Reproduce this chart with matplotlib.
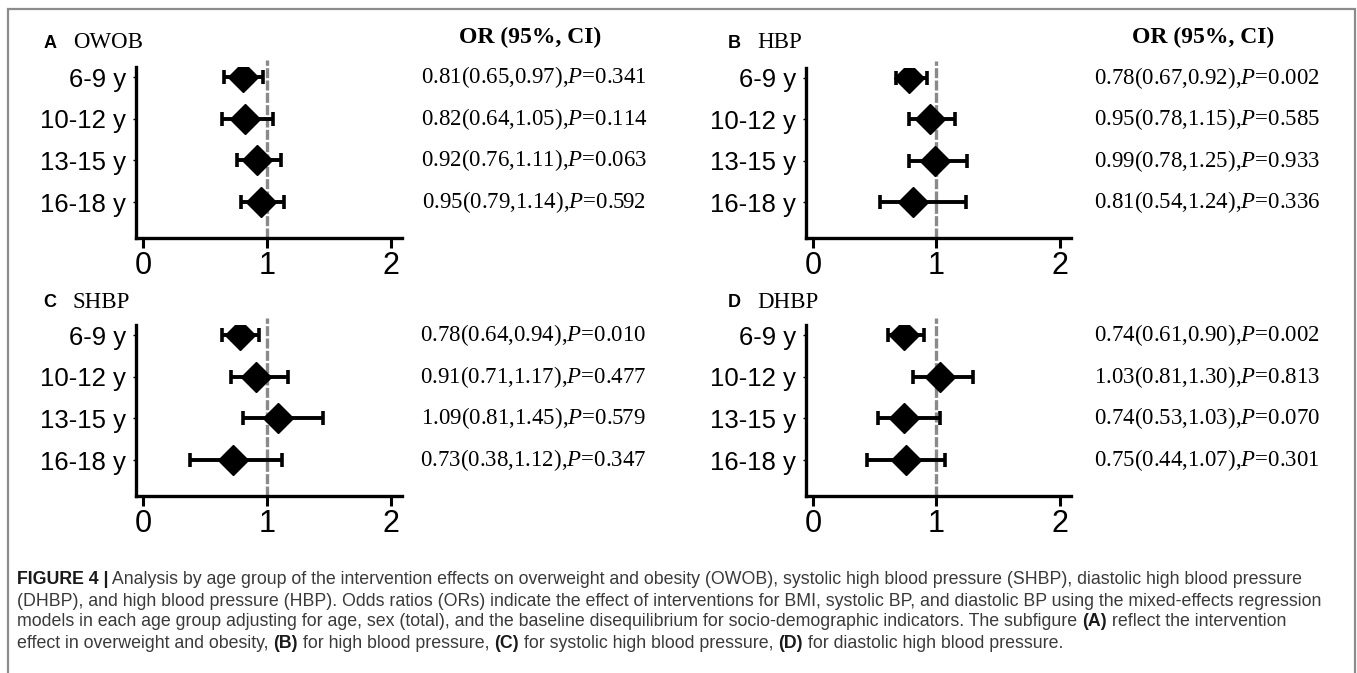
import matplotlib
matplotlib.use("Agg")
import matplotlib.pyplot as plt
from matplotlib.patches import Rectangle
from matplotlib.transforms import blended_transform_factory

plt.rcParams['mathtext.fontset'] = 'custom'
plt.rcParams['mathtext.rm'] = 'Liberation Serif'
plt.rcParams['mathtext.it'] = 'Liberation Serif:italic'

# data
groups = ["6-9 y", "10-12 y", "13-15 y", "16-18 y"]

owob_or = [0.81, 0.82, 0.92, 0.95]
owob_lo = [0.65, 0.64, 0.76, 0.79]
owob_hi = [0.97, 1.05, 1.11, 1.14]
owob_p = [0.341, 0.114, 0.063, 0.592]

hbp_or = [0.78, 0.95, 0.99, 0.81]
hbp_lo = [0.67, 0.78, 0.78, 0.54]
hbp_hi = [0.92, 1.15, 1.25, 1.24]
hbp_p = [0.002, 0.585, 0.933, 0.336]

shbp_or = [0.78, 0.91, 1.09, 0.73]
shbp_lo = [0.64, 0.71, 0.81, 0.38]
shbp_hi = [0.94, 1.17, 1.45, 1.12]
shbp_p = [0.010, 0.477, 0.579, 0.347]

dhbp_or = [0.74, 1.03, 0.74, 0.75]
dhbp_lo = [0.61, 0.81, 0.53, 0.44]
dhbp_hi = [0.90, 1.30, 1.03, 1.07]
dhbp_p = [0.002, 0.813, 0.070, 0.301]

W, H = 1357, 673
fig = plt.figure(figsize=(W / 100, H / 100), dpi=100)
fig.patch.set_facecolor("white")

# outer frame (no bottom edge visible)
fig.add_artist(Rectangle((8 / W, -0.05), (1355 - 8) / W, 1.05 - 9 / H,
                         transform=fig.transFigure, fill=False,
                         edgecolor="#8c8c8c", linewidth=1.6))


def px_rect(l, t, r, b):
    return [l / W, 1 - b / H, (r - l) / W, (b - t) / H]


def forest(box, letter, name, ors, lo, hi, pvals, text_x, letter_xy, show_header):
    ax = fig.add_axes(px_rect(*box))
    ypos = [4, 3, 2, 1]
    ax.plot([1, 1], [0.14, 4.41], color="#8a8a8a", lw=2.4,
            linestyle=(0, (3, 0.7)), clip_on=False, zorder=1)
    xerr = [[o - l for o, l in zip(ors, lo)], [h - o for o, h in zip(ors, hi)]]
    ax.errorbar(ors, ypos, xerr=xerr, fmt="D", color="black", ms=15,
                elinewidth=2.8, capsize=5, capthick=2.6, zorder=3)
    ax.set_xlim(-0.056, 2.09)
    ax.set_ylim(0.14, 4.24)
    ax.set_xticks([0, 1, 2])
    ax.set_yticks(ypos)
    ax.set_yticklabels(groups, family="Liberation Sans", fontsize=18.5)
    for lab in ax.get_xticklabels():
        lab.set_family("Liberation Sans")
        lab.set_fontsize(22)
    ax.tick_params(axis="x", length=7, width=2.2, pad=2)
    ax.tick_params(axis="y", length=2, width=1, pad=5)
    for s in ["top", "right"]:
        ax.spines[s].set_visible(False)
    for s in ["left", "bottom"]:
        ax.spines[s].set_linewidth(2.4)
    ax.patch.set_alpha(0)

    # panel letter and title
    lx, ly = letter_xy
    fig.text(lx / W, 1 - ly / H, letter, family="Liberation Sans",
             weight="bold", fontsize=13, ha="center", va="center")
    fig.text((lx + 23) / W, 1 - (ly - 1) / H, name, family="Liberation Serif",
             fontsize=16.5, ha="left", va="center")

    if show_header:
        fig.text((text_x - 4) / W, 1 - 37 / H, "OR (95%, CI)",
                 family="Liberation Serif", weight="bold", fontsize=17,
                 ha="center", va="center")
    tr = blended_transform_factory(fig.transFigure, ax.transData)
    for y, o, l, h, p in zip(ypos, ors, lo, hi, pvals):
        s = "{:.2f}({:.2f},{:.2f}),$P$={:.3f}".format(o, l, h, p)
        ax.text(text_x / W, y, s, transform=tr, family="Liberation Serif",
                fontsize=16.5, ha="center", va="center")


forest((136, 67, 402, 238), "A", "OWOB", owob_or, owob_lo, owob_hi, owob_p,
       534, (50, 44), True)
forest((806, 68, 1071, 238), "B", "HBP", hbp_or, hbp_lo, hbp_hi, hbp_p,
       1207, (734, 44), True)
forest((136, 325, 402, 496), "C", "SHBP", shbp_or, shbp_lo, shbp_hi, shbp_p,
       533, (50, 303), False)
forest((806, 325, 1071, 496), "D", "DHBP", dhbp_or, dhbp_lo, dhbp_hi, dhbp_p,
       1207, (734, 303), False)

# caption with bold fragments
cap_lines = [
    [("FIGURE 4 |", True), (" Analysis by age group of the intervention effects on overweight and obesity (OWOB), systolic high blood pressure (SHBP), diastolic high blood pressure", False)],
    [("(DHBP), and high blood pressure (HBP). Odds ratios (ORs) indicate the effect of interventions for BMI, systolic BP, and diastolic BP using the mixed-effects regression", False)],
    [("models in each age group adjusting for age, sex (total), and the baseline disequilibrium for socio-demographic indicators. The subfigure ", False), ("(A)", True), (" reflect the intervention", False)],
    [("effect in overweight and obesity, ", False), ("(B)", True), (" for high blood pressure, ", False), ("(C)", True), (" for systolic high blood pressure, ", False), ("(D)", True), (" for diastolic high blood pressure.", False)],
]
cap_y = [580, 601, 622, 643]

renderer = fig.canvas.get_renderer()


def text_width(s, bold, size):
    t = fig.text(0, 0, "|" + s + "|", family="Liberation Sans", fontsize=size,
                 weight="bold" if bold else "normal")
    t2 = fig.text(0, 0, "||", family="Liberation Sans", fontsize=size,
                  weight="bold" if bold else "normal")
    w = t.get_window_extent(renderer).width - t2.get_window_extent(renderer).width
    t.remove()
    t2.remove()
    return w


base = 10.0
w2 = sum(text_width(s, b, base) for s, b in cap_lines[1])
cap_size = base * (1330 - 17) / w2

for line, y in zip(cap_lines, cap_y):
    x = 17
    for s, b in line:
        fig.text(x / W, 1 - y / H, s, family="Liberation Sans", fontsize=cap_size,
                 weight="bold" if b else "normal",
                 color="#1a1a1a" if b else "#3a3a3a", ha="left", va="center")
        x += text_width(s, b, cap_size)

fig.savefig("out.png", dpi=100)
